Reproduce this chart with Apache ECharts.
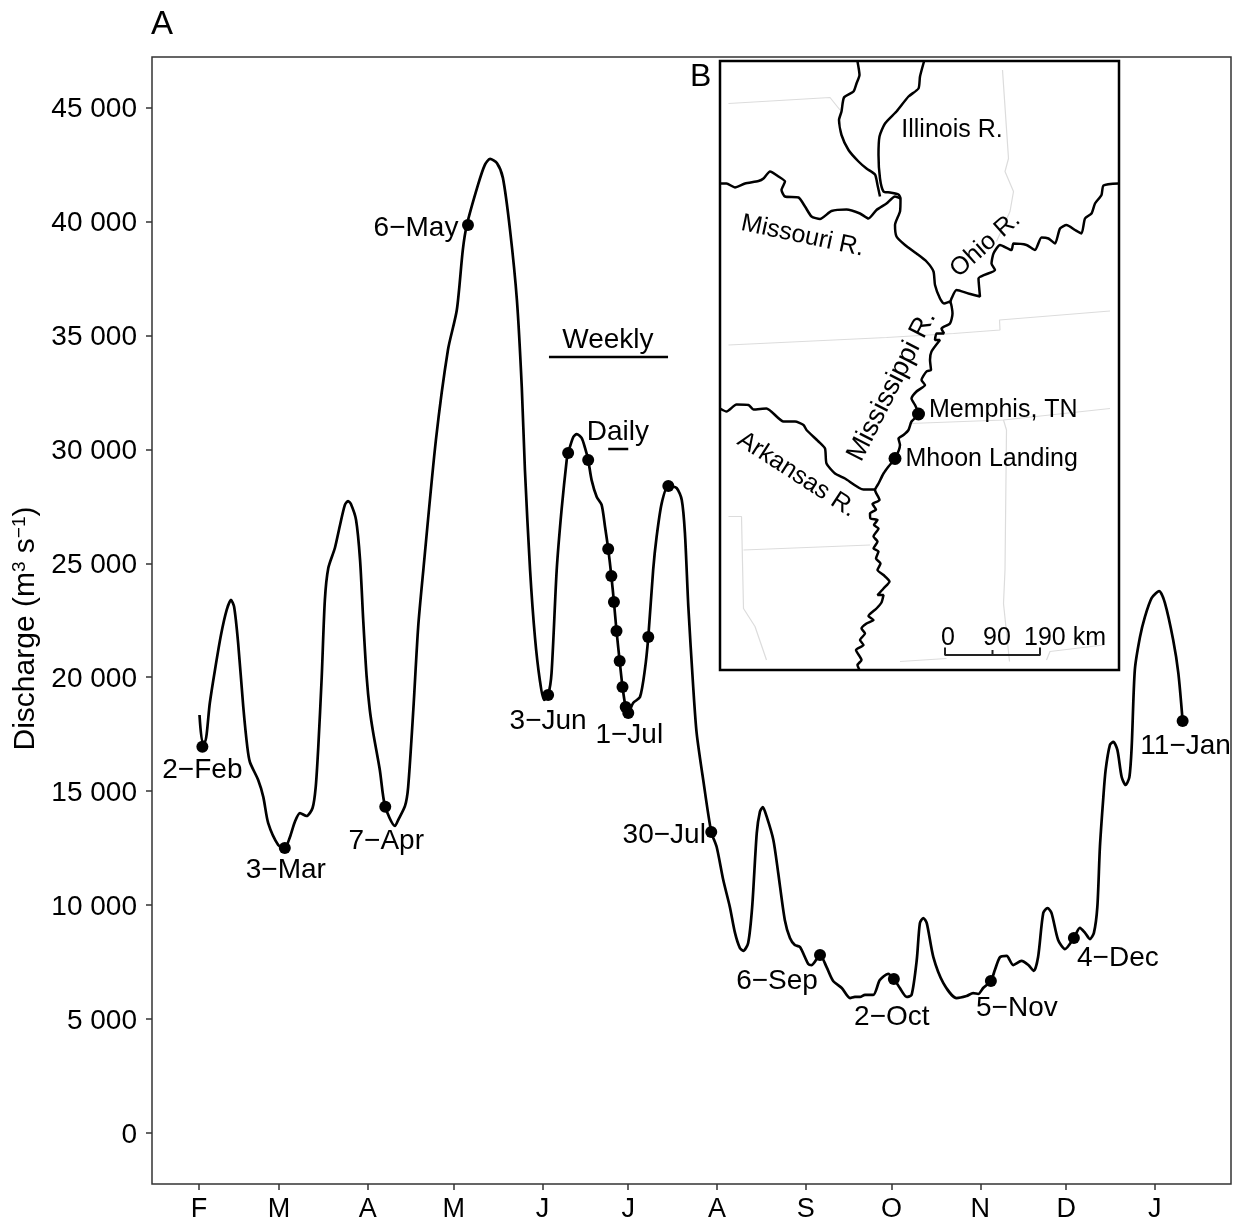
<!DOCTYPE html>
<html><head><meta charset="utf-8">
<style>html,body{margin:0;padding:0;background:#fff}#c{width:1246px;height:1222px}</style>
<script src="https://cdn.jsdelivr.net/npm/echarts@6/dist/echarts.min.js"></script>
</head><body><div id="c"></div>
<script>
// Hydrograph: days since 1 Feb, discharge in m3/s
const traceDays = [0.2,1.2,2.1,3.8,5.6,7.7,9.7,11.2,12.3,13.7,15.5,16.9,17.8,20.7,22.5,24.2,27.7,30,31.8,33.5,35.3,37.6,39.7,40.8,41.7,42.9,44,45.2,47.5,49.3,51,52.1,53.1,54.9,56.3,57.4,58.6,59.7,60.9,63.2,65,68.5,69.6,72,73.1,74.9,76.6,78.4,82.8,87,90.1,92.2,93.6,97.5,99.9,101.7,104.1,106.2,108.7,111.1,112.8,113.9,115.7,117.4,119.1,120.6,122,123.2,125,126.7,128.5,129,130.8,132,133.7,134.9,136,137.2,139,140.7,141.9,143,144.1,145,145.9,147,148,149.1,150,151.7,154.1,155.8,157,158.7,159.9,161.7,164,166.9,168.7,169.8,171,172.7,173.9,176.2,179,180.9,183.2,185.5,187.3,189,190.2,191.9,193.3,194.9,196,197,198.4,200.7,202.4,204.7,206.5,208.2,210,212.9,214.1,217,219.3,221.6,224.6,227.5,229.2,231,232.7,235.6,237.9,240.8,242.8,244.9,247.3,249,250.8,251.9,253.1,254.3,256.6,260.1,264.7,268.2,270.5,272.3,274,276.7,278.1,279.9,282.2,284.5,287.4,289.8,291.7,293.2,295,296.5,297.9,300.2,302.6,305.7,307.8,309.6,311.3,312.7,313.9,314.8,316,316.8,318.3,319.5,320.9,322.4,323.8,325.1,325.9,327,328.8,330.5,332.9,335.5,337.5,340.4,342.2,343.7];
const traceQ = [18340,17160,17160,18870,20320,21850,22950,23390,23080,21500,18690,16940,16280,15490,14740,13600,12640,12510,12990,13650,14040,13910,14260,15180,16940,20010,23390,24790,25670,26680,27560,27730,27600,26900,25140,22510,20010,18560,17550,15930,14350,13470,13730,14350,15180,18560,22200,24700,30410,34360,36110,38750,39840,41600,42480,42740,42560,41910,39620,36550,32730,29090,24700,21760,19880,19000,19220,20180,24700,27340,29530,29840,30540,30670,30500,30060,29530,28650,27910,27560,26590,25630,24440,23300,22030,20710,19570,18690,18430,18870,19130,20320,21760,24700,26150,27640,28390,28300,27780,26330,23080,19570,17550,15490,13210,12550,11100,9920,8780,8120,7990,8340,9920,13160,14090,14300,13870,12860,11410,9350,8560,8250,8160,7420,7370,7810,7280,6670,6360,5920,5970,5970,6060,6060,6710,6980,6760,6360,5970,6060,7590,9210,9430,9210,7720,6580,5920,6010,6140,6100,6360,6670,7150,7720,7770,7370,7550,7370,7110,7720,9650,9870,9650,8470,8070,8560,9000,8780,8510,8780,9920,12550,14740,15930,17030,17160,16810,15620,15270,15620,16940,20320,21760,22640,23480,23780,23260,21630,20180,18080];

// Sampling dates
const sampleDays = [1.2,30,65.1,94,122,129,136,143,144.1,145,145.9,147,148,149.1,150,157,164,179,217,242.8,276.7,305.7,343.7];
const sampleQ = [16950,12510,14320,39840,19220,29840,29530,25630,24440,23300,22030,20710,19570,18690,18430,21760,28390,13210,7810,6760,6670,8560,18080];
const sampleNames = ['2\u2212Feb','3\u2212Mar','7\u2212Apr','6\u2212May','3\u2212Jun','','','','','','','','','','1\u2212Jul','','','30\u2212Jul','6\u2212Sep','2\u2212Oct','5\u2212Nov','4\u2212Dec','11\u2212Jan'];

// Axis ticks
const monthDays = [0,28,59,89,120,150,181,212,242,273,303,334];
const monthLetters = ['F','M','A','M','J','J','A','S','O','N','D','J'];
const qTicks = [0,5000,10000,15000,20000,25000,30000,35000,40000,45000];

// Sampling-frequency brackets
const weeklyBar = {days:[122.3,163.9], q:[34050,34050]};
const dailyBar = {days:[143,150], q:[30010,30010]};
const bracketNames = ['Weekly','Daily'];
const bracketDays = [142.9,146.4];
const bracketQ = [34880,30850];

// Inset map, km east / km north of the frame's lower-left corner
const upperMissX = [275,279,273,267,248,243,238,243,257,277,293,310,315,320];
const upperMissY = [1217,1190,1173,1157,1145,1117,1100,1070,1040,1017,1003,991,970,947];
const mainMissX = [408,400,397,377,353,330,319,317,320,327,340,357,361,360,350,353,370,393,413,427,430,440,448,460,465,460,443,448,433,430,440,423,420,422,413,403,410,393,383,390,397,383,377,367,357,360,350,337,327,317,310,319,305,312,300,301,315,308,317,307,315,307,317,312,321,315,327,339,327,315,327,323,313,297,307,293,283,290,280,287,272,283,275,279];
const mainMissY = [1217,1187,1163,1147,1117,1093,1067,1030,983,957,955,951,943,917,890,867,850,833,817,797,770,743,733,737,713,693,683,673,673,660,660,637,620,600,597,580,570,557,543,530,512,497,480,470,463,450,423,407,393,373,360,340,332,321,313,303,300,290,283,267,257,243,237,223,213,200,190,177,163,150,150,135,123,108,100,93,83,73,60,50,40,20,10,0];
const missouriX = [0,13,30,50,77,87,100,117,130,123,130,157,170,183,200,223,253,280,297,313,333,350,361];
const missouriY = [973,973,965,973,978,983,997,987,977,960,947,945,927,907,902,918,921,913,903,920,933,947,943];
const ohioX = [797,767,763,750,743,730,723,710,693,680,670,657,643,630,613,587,583,560,547,543,550,517,520,497,473,463,460];
const ohioY = [973,969,950,933,913,903,873,880,890,883,853,863,865,840,850,853,840,850,833,813,800,783,747,753,760,743,733];
const arkansasX = [0,13,33,57,67,93,127,150,167,173,197,210,213,230,250,287,310];
const arkansasY = [523,517,531,530,521,523,497,497,490,480,457,443,413,393,383,361,361];
const stateLines = [
  [[17,1133],[220,1145],[240,1120]],
  [[565,1200],[577,1023],[570,997],[587,957],[580,917],[553,857]],
  [[17,650],[333,665],[467,673],[560,680],[559,700],[780,718]],
  [[380,493],[567,500],[780,523]],
  [[567,500],[573,480],[570,200],[567,133],[579,17]],
  [[17,307],[43,307],[47,123],[70,87],[93,20]],
  [[47,240],[300,250]],
  [[360,17],[453,23]],
  [[653,20],[660,37],[767,50]]
];
const siteNames = ['Memphis, TN','Mhoon Landing'];
const siteX = [397,350];
const siteY = [512,423];
const riverNames = ['Illinois R.','Missouri R.','Ohio R.','Mississippi R.','Arkansas R.'];
const riverX = [464,166,528,340,156];
const riverY = [1084,872,854,570,394];
const scaleBar = [[450,45],[450,30],[640,30],[640,45]];
const scaleMid = [[545,40],[545,30]];
const scaleNames = ['0','90','190 km'];
const scaleX = [456,554,690];
const scaleY = [68,68,68];

// Layout (not data): label offsets, rotations and sizes
const sampleOffsets = [[0,24],[1,22],[1,35],[-52,3],[0,26],[0,0],[0,0],[0,0],[0,0],[0,0],[0,0],[0,0],[0,0],[0,0],[1,22],[0,0],[0,0],[-47,3],[-43,26],[-2,38],[26,27],[44,20],[3,25]];
const siteOffsets = [[0,-4],[0,1]];
const riverRotate = [0,-12,42,63,-33];
const riverSizes = [25,25,25,27,25];

const FONT = '"Liberation Sans", Arial, sans-serif';
const INK = '#000';
const chart = echarts.init(document.getElementById('c'), null, {renderer:'canvas'});
const zip = (a,b) => a.map((v,i)=>[v,b[i]]);
const textSeries = (names,xs,ys,sizes,rot,xi) => ({
  type:'scatter', xAxisIndex:xi, yAxisIndex:xi, z:6, silent:true,
  symbolSize:1, itemStyle:{color:'rgba(0,0,0,0)',opacity:1},
  data: names.map((n,i)=>({value:[xs[i],ys[i]], name:n,
    label:{show:true, position:'inside', offset:[0,2], formatter:n, fontSize:sizes[i], fontFamily:FONT, color:INK, rotate:rot?rot[i]:0, align:'center', verticalAlign:'middle'}}))
});
const mapLine = (pts,color,width,smooth) => ({
  type:'line', xAxisIndex:1, yAxisIndex:1, data:pts, showSymbol:false, symbol:'none', silent:true, z:4,
  smooth:smooth, lineStyle:{color:color,width:width}
});
const barLine = (d,q) => ({type:'line',xAxisIndex:0,yAxisIndex:0,data:zip(d,q),showSymbol:false,symbol:'none',silent:true,lineStyle:{color:INK,width:2.5}});

chart.setOption({
  animation:false,
  backgroundColor:'#fff',
  title:[
    {text:'A',left:146,top:3,textStyle:{fontSize:33,fontWeight:'normal',fontFamily:FONT,color:INK}},
    {text:'B',left:685,top:56,textStyle:{fontSize:32,fontWeight:'normal',fontFamily:FONT,color:INK}}
  ],
  grid:[
    {left:152,top:57,width:1079,height:1127,show:true,borderColor:'#333',borderWidth:1.5,backgroundColor:'#fff',z:0,outerBoundsMode:'none'},
    {left:720,top:61,width:399,height:609,show:true,borderColor:'#000',borderWidth:2.5,backgroundColor:'#fff',z:3,outerBoundsMode:'none'}
  ],
  xAxis:[
    {type:'value',gridIndex:0,min:-16.4,max:360.6,splitLine:{show:false},axisLine:{show:false,onZero:false},
     axisTick:{show:true,length:6,lineStyle:{color:'#333',width:1.5},customValues:monthDays},
     axisLabel:{fontSize:27,fontFamily:FONT,color:INK,margin:12,customValues:monthDays,
       formatter:v=>monthLetters[monthDays.indexOf(v)]}},
    {type:'value',gridIndex:1,min:0,max:798,show:false}
  ],
  yAxis:[
    {type:'value',gridIndex:0,min:-2238,max:47214,splitLine:{show:false},axisLine:{show:false,onZero:false},
     name:'Discharge (m{sup|3} s{sup|\u22121})',nameLocation:'middle',nameGap:101,nameRotate:90,
     nameTextStyle:{fontSize:30,fontFamily:FONT,color:INK,padding:[0,16,0,0],rich:{sup:{fontSize:19,fontFamily:FONT,color:INK,padding:[0,0,12,0]}}},
     axisTick:{show:true,length:6,lineStyle:{color:'#333',width:1.5},customValues:qTicks},
     axisLabel:{fontSize:28,fontFamily:FONT,color:INK,margin:15,customValues:qTicks,
       rich:{t:{fontSize:28,fontFamily:FONT,color:INK,padding:[4,0,0,0]}},
       formatter:v=>'{t|'+(v===0?'0':String(v).replace(/(\d)(\d{3})$/,'$1 $2'))+'}'}},
    {type:'value',gridIndex:1,min:0,max:1218,show:false}
  ],
  series:[
    {type:'line',xAxisIndex:0,yAxisIndex:0,data:zip(traceDays,traceQ),showSymbol:false,symbol:'none',smooth:0.25,silent:true,z:2,lineStyle:{color:INK,width:2.7}},
    {type:'scatter',xAxisIndex:0,yAxisIndex:0,symbolSize:12,z:5,silent:true,itemStyle:{color:'#000',opacity:1},
     data:sampleNames.map((n,i)=>({value:[sampleDays[i],sampleQ[i]],
       label:{show:n!=='',position:'inside',formatter:n,fontSize:28,fontFamily:FONT,color:INK,offset:sampleOffsets[i]}}))},
    barLine(weeklyBar.days,weeklyBar.q),
    barLine(dailyBar.days,dailyBar.q),
    textSeries(bracketNames,bracketDays,bracketQ,[28,28],null,0),
    ...stateLines.map(p=>mapLine(p,'#dcdcdc',1.2,false)),
    mapLine(zip(upperMissX,upperMissY),'#000',2.5,0.2),
    mapLine(zip(mainMissX,mainMissY),'#000',2.5,0.2),
    mapLine(zip(missouriX,missouriY),'#000',2.5,0.2),
    mapLine(zip(ohioX,ohioY),'#000',2.5,0.2),
    mapLine(zip(arkansasX,arkansasY),'#000',2.5,0.2),
    mapLine(scaleBar,'#222',2,false),
    mapLine(scaleMid,'#222',2,false),
    {type:'scatter',xAxisIndex:1,yAxisIndex:1,symbolSize:13,z:6,silent:true,itemStyle:{color:'#000',opacity:1},
     data:siteNames.map((n,i)=>({value:[siteX[i],siteY[i]],
       label:{show:true,position:'right',distance:4,offset:siteOffsets[i],formatter:n,fontSize:25,fontFamily:FONT,color:INK}}))},
    textSeries(riverNames,riverX,riverY,riverSizes,riverRotate,1),
    textSeries(scaleNames,scaleX,scaleY,[25,25,25],null,1)
  ]
});
</script></body></html>
